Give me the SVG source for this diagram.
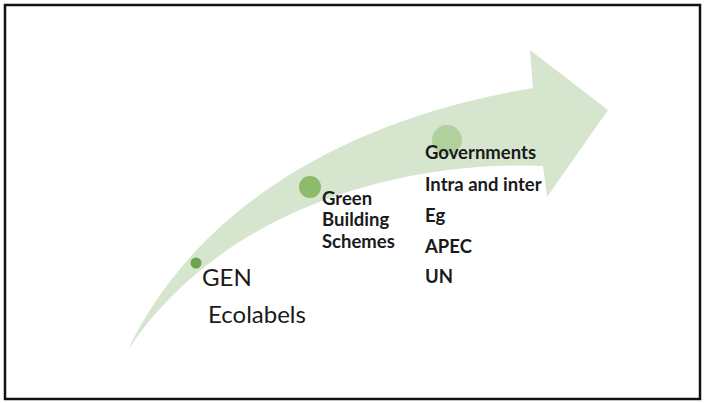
<svg xmlns="http://www.w3.org/2000/svg" width="705" height="403" viewBox="0 0 705 403">
  <style>
    .reg { font-family: Lato, "Open Sans", sans-serif; font-size: 24px; fill: #1a1a1a; }
    .bold { font-family: Lato, "Open Sans", sans-serif; font-size: 18.5px; font-weight: bold; fill: #1a1a1a; }
  </style>
  <rect x="0" y="0" width="705" height="403" fill="#ffffff"/>
  <rect x="5" y="5" width="695" height="394" fill="none" stroke="#111111" stroke-width="2.5"/>
  <g id="arrow">
    <path d="M128,350 C170,260 280,130 533,88 L530,50 L608,110 L547,197 L543,166 C400,160 220,210 128,350 Z" fill="#d6e5cd"/>
  </g>
  <g id="node-gen">
    <circle cx="196" cy="263" r="5.5" fill="#6ca44c"/>
    <text class="reg" x="202" y="286">GEN</text>
    <text class="reg" x="208" y="323">Ecolabels</text>
  </g>
  <g id="node-green-building">
    <circle cx="310" cy="187" r="11" fill="#8cbb6c"/>
    <text class="bold" x="322" y="205">Green</text>
    <text class="bold" x="322" y="226">Building</text>
    <text class="bold" x="322" y="248">Schemes</text>
  </g>
  <g id="node-governments">
    <circle cx="447" cy="140" r="15" fill="#b0d09c"/>
    <text class="bold" x="425" y="159">Governments</text>
    <text class="bold" x="425" y="191">Intra and inter</text>
    <text class="bold" x="425" y="222">Eg</text>
    <text class="bold" x="425" y="253">APEC</text>
    <text class="bold" x="425" y="283">UN</text>
  </g>
</svg>
